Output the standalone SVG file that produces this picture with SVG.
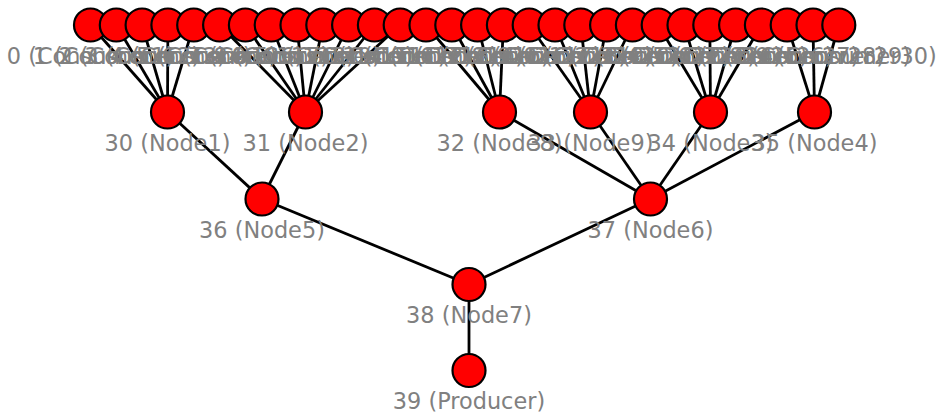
<svg xmlns="http://www.w3.org/2000/svg" width="941" height="417" viewBox="0 0 941 417">
<style>
.n{fill:#ff0000;stroke:#000;stroke-width:2.2}
.t{font-family:"DejaVu Sans",sans-serif;font-size:22.4px;fill:#808080;text-anchor:middle}
.e line{stroke:#000;stroke-width:2.8}
</style>
<rect width="941" height="417" fill="#fff"/>
<g id="edges" class="e">
<line x1="90.5" y1="25" x2="167.5" y2="112"/>
<line x1="116.3" y1="25" x2="167.5" y2="112"/>
<line x1="142.1" y1="25" x2="167.5" y2="112"/>
<line x1="167.9" y1="25" x2="167.5" y2="112"/>
<line x1="193.7" y1="25" x2="167.5" y2="112"/>
<line x1="219.6" y1="25" x2="305.5" y2="112"/>
<line x1="245.4" y1="25" x2="305.5" y2="112"/>
<line x1="271.2" y1="25" x2="305.5" y2="112"/>
<line x1="297" y1="25" x2="305.5" y2="112"/>
<line x1="322.8" y1="25" x2="305.5" y2="112"/>
<line x1="348.6" y1="25" x2="305.5" y2="112"/>
<line x1="374.4" y1="25" x2="305.5" y2="112"/>
<line x1="400.2" y1="25" x2="305.5" y2="112"/>
<line x1="426" y1="25" x2="499.5" y2="112"/>
<line x1="451.8" y1="25" x2="499.5" y2="112"/>
<line x1="477.6" y1="25" x2="499.5" y2="112"/>
<line x1="503.4" y1="25" x2="499.5" y2="112"/>
<line x1="529.2" y1="25" x2="590.5" y2="112"/>
<line x1="555" y1="25" x2="590.5" y2="112"/>
<line x1="580.8" y1="25" x2="590.5" y2="112"/>
<line x1="606.6" y1="25" x2="590.5" y2="112"/>
<line x1="632.4" y1="25" x2="590.5" y2="112"/>
<line x1="658.2" y1="25" x2="710.5" y2="112"/>
<line x1="684" y1="25" x2="710.5" y2="112"/>
<line x1="709.8" y1="25" x2="710.5" y2="112"/>
<line x1="735.6" y1="25" x2="710.5" y2="112"/>
<line x1="761.4" y1="25" x2="710.5" y2="112"/>
<line x1="787.2" y1="25" x2="814.5" y2="112"/>
<line x1="813" y1="25" x2="814.5" y2="112"/>
<line x1="838.8" y1="25" x2="814.5" y2="112"/>
<line x1="167.5" y1="112" x2="262" y2="199"/>
<line x1="305.5" y1="112" x2="262" y2="199"/>
<line x1="499.5" y1="112" x2="650.5" y2="199"/>
<line x1="590.5" y1="112" x2="650.5" y2="199"/>
<line x1="710.5" y1="112" x2="650.5" y2="199"/>
<line x1="814.5" y1="112" x2="650.5" y2="199"/>
<line x1="262" y1="199" x2="469" y2="284.5"/>
<line x1="650.5" y1="199" x2="469" y2="284.5"/>
<line x1="469" y1="284.5" x2="469" y2="370.5"/>
</g>
<g id="node0"><circle class="n" cx="90.5" cy="25" r="16.5"/><text class="t" x="90.5" y="64">0 (Consumer1)</text></g>
<g id="node1"><circle class="n" cx="116.3" cy="25" r="16.5"/><text class="t" x="116.3" y="64">1 (Consumer2)</text></g>
<g id="node2"><circle class="n" cx="142.1" cy="25" r="16.5"/><text class="t" x="142.1" y="64">2 (Consumer3)</text></g>
<g id="node3"><circle class="n" cx="167.9" cy="25" r="16.5"/><text class="t" x="167.9" y="64">3 (Consumer4)</text></g>
<g id="node4"><circle class="n" cx="193.7" cy="25" r="16.5"/><text class="t" x="193.7" y="64">4 (Consumer5)</text></g>
<g id="node5"><circle class="n" cx="219.6" cy="25" r="16.5"/><text class="t" x="219.6" y="64">5 (Consumer6)</text></g>
<g id="node6"><circle class="n" cx="245.4" cy="25" r="16.5"/><text class="t" x="245.4" y="64">6 (Consumer7)</text></g>
<g id="node7"><circle class="n" cx="271.2" cy="25" r="16.5"/><text class="t" x="271.2" y="64">7 (Consumer8)</text></g>
<g id="node8"><circle class="n" cx="297" cy="25" r="16.5"/><text class="t" x="297" y="64">8 (Consumer9)</text></g>
<g id="node9"><circle class="n" cx="322.8" cy="25" r="16.5"/><text class="t" x="322.8" y="64">9 (Consumer10)</text></g>
<g id="node10"><circle class="n" cx="348.6" cy="25" r="16.5"/><text class="t" x="348.6" y="64">10 (Consumer11)</text></g>
<g id="node11"><circle class="n" cx="374.4" cy="25" r="16.5"/><text class="t" x="374.4" y="64">11 (Consumer12)</text></g>
<g id="node12"><circle class="n" cx="400.2" cy="25" r="16.5"/><text class="t" x="400.2" y="64">12 (Consumer13)</text></g>
<g id="node13"><circle class="n" cx="426" cy="25" r="16.5"/><text class="t" x="426" y="64">13 (Consumer14)</text></g>
<g id="node14"><circle class="n" cx="451.8" cy="25" r="16.5"/><text class="t" x="451.8" y="64">14 (Consumer15)</text></g>
<g id="node15"><circle class="n" cx="477.6" cy="25" r="16.5"/><text class="t" x="477.6" y="64">15 (Consumer16)</text></g>
<g id="node16"><circle class="n" cx="503.4" cy="25" r="16.5"/><text class="t" x="503.4" y="64">16 (Consumer17)</text></g>
<g id="node17"><circle class="n" cx="529.2" cy="25" r="16.5"/><text class="t" x="529.2" y="64">17 (Consumer18)</text></g>
<g id="node18"><circle class="n" cx="555" cy="25" r="16.5"/><text class="t" x="555" y="64">18 (Consumer19)</text></g>
<g id="node19"><circle class="n" cx="580.8" cy="25" r="16.5"/><text class="t" x="580.8" y="64">19 (Consumer20)</text></g>
<g id="node20"><circle class="n" cx="606.6" cy="25" r="16.5"/><text class="t" x="606.6" y="64">20 (Consumer21)</text></g>
<g id="node21"><circle class="n" cx="632.4" cy="25" r="16.5"/><text class="t" x="632.4" y="64">21 (Consumer22)</text></g>
<g id="node22"><circle class="n" cx="658.2" cy="25" r="16.5"/><text class="t" x="658.2" y="64">22 (Consumer23)</text></g>
<g id="node23"><circle class="n" cx="684" cy="25" r="16.5"/><text class="t" x="684" y="64">23 (Consumer24)</text></g>
<g id="node24"><circle class="n" cx="709.8" cy="25" r="16.5"/><text class="t" x="709.8" y="64">24 (Consumer25)</text></g>
<g id="node25"><circle class="n" cx="735.6" cy="25" r="16.5"/><text class="t" x="735.6" y="64">25 (Consumer26)</text></g>
<g id="node26"><circle class="n" cx="761.4" cy="25" r="16.5"/><text class="t" x="761.4" y="64">26 (Consumer27)</text></g>
<g id="node27"><circle class="n" cx="787.2" cy="25" r="16.5"/><text class="t" x="787.2" y="64">27 (Consumer28)</text></g>
<g id="node28"><circle class="n" cx="813" cy="25" r="16.5"/><text class="t" x="813" y="64">28 (Consumer29)</text></g>
<g id="node29"><circle class="n" cx="838.8" cy="25" r="16.5"/><text class="t" x="838.8" y="64">29 (Consumer30)</text></g>
<g id="node30"><circle class="n" cx="167.5" cy="112" r="16.5"/><text class="t" x="167.5" y="151">30 (Node1)</text></g>
<g id="node31"><circle class="n" cx="305.5" cy="112" r="16.5"/><text class="t" x="305.5" y="151">31 (Node2)</text></g>
<g id="node32"><circle class="n" cx="499.5" cy="112" r="16.5"/><text class="t" x="499.5" y="151">32 (Node8)</text></g>
<g id="node33"><circle class="n" cx="590.5" cy="112" r="16.5"/><text class="t" x="590.5" y="151">33 (Node9)</text></g>
<g id="node34"><circle class="n" cx="710.5" cy="112" r="16.5"/><text class="t" x="710.5" y="151">34 (Node3)</text></g>
<g id="node35"><circle class="n" cx="814.5" cy="112" r="16.5"/><text class="t" x="814.5" y="151">35 (Node4)</text></g>
<g id="node36"><circle class="n" cx="262" cy="199" r="16.5"/><text class="t" x="262" y="238">36 (Node5)</text></g>
<g id="node37"><circle class="n" cx="650.5" cy="199" r="16.5"/><text class="t" x="650.5" y="238">37 (Node6)</text></g>
<g id="node38"><circle class="n" cx="469" cy="284.5" r="16.5"/><text class="t" x="469" y="323">38 (Node7)</text></g>
<g id="node39"><circle class="n" cx="469" cy="370.5" r="16.5"/><text class="t" x="469" y="409">39 (Producer)</text></g>
</svg>
